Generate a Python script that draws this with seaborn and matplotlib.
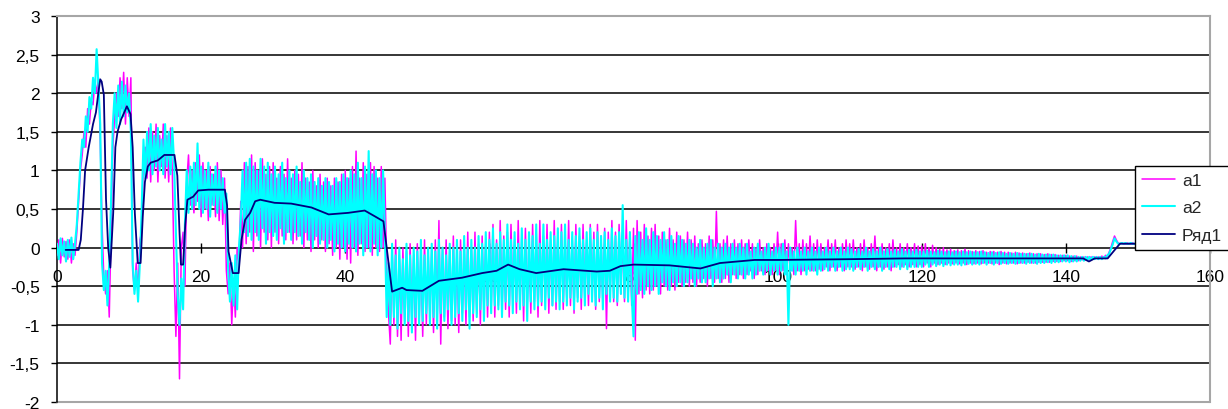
import numpy as np
import pandas as pd
import matplotlib
matplotlib.use("Agg")
import matplotlib.pyplot as plt
from matplotlib.ticker import FuncFormatter, MultipleLocator
import seaborn as sns

# Sampled signals a1 / a2: one value every 0.25 s from t = 0 to t = 150
t_start = 0.0
t_step = 0.25

a1 = [
    # 0 - 9.75
    -0.1, 0.1, -0.2, 0.12, -0.12, 0.08, -0.15, 0.1, -0.2, 0.05,
    -0.1, 0.2, 0.6, 1.0, 1.2, 1.5, 1.3, 1.8, 1.6, 1.9,
    1.85, 2.15, 2.0, 2.2, 1.4, 0.3, -0.4, -0.6, -0.3, -0.9,
    0.2, 1.3, 1.7, 2.0, 1.7, 2.2, 1.8, 2.27, 1.6, 2.2,
    # 10 - 19.75
    1.7, 2.2, -0.3, -0.55, -0.2, -0.6, 0.1, 0.2, 1.2, 1.3,
    0.9, 1.55, 0.85, 1.5, 1.0, 1.6, 0.85, 1.45, 1.05, 1.6,
    0.9, 1.45, 0.85, 1.55, 1.0, -0.3, -1.15, -0.2, -1.7, 0.0,
    0.2, -0.5, 0.85, 1.2, 0.55, 1.0, 0.45, 1.1, 0.6, 1.2,
    # 20 - 29.75
    0.4, 1.1, 0.5, 1.0, 0.35, 1.05, 0.55, 0.95, 0.4, 1.1,
    0.35, 1.0, 0.3, 0.9, -0.3, -0.6, -0.2, -1.0, -0.4, -0.9,
    0.0, -0.2, 0.6, 0.0, 1.1, 0.05, 1.05, 0.2, 1.2, -0.05,
    1.1, 0.15, 1.0, 0.0, 1.15, 0.2, 0.95, 0.1, 1.05, 0.0,
    # 30 - 39.75
    1.1, 0.2, 0.9, 0.05, 1.05, 0.15, 0.95, 0.1, 1.15, 0.2,
    0.9, 0.05, 1.0, 0.1, 0.95, 0.15, 1.1, 0.0, 0.9, 0.1,
    0.85, -0.05, 1.0, 0.1, 0.8, 0.0, 0.95, 0.1, 0.85, -0.05,
    0.9, 0.05, 0.8, -0.1, 0.9, 0.0, 0.85, -0.15, 0.95, 0.0,
    # 40 - 49.75
    1.0, -0.15, 0.9, -0.2, 1.05, 0.0, 1.25, -0.1, 0.9, 0.05,
    1.1, -0.05, 0.95, 0.0, 1.1, -0.1, 1.05, 0.0, 0.9, -0.05,
    1.05, 0.0, 0.9, -0.3, -0.85, -1.25, 0.0, -1.0, 0.1, -1.15,
    -0.1, -1.2, 0.0, -0.95, -0.05, -1.15, 0.05, -1.0, -0.1, -1.2,
    # 50 - 59.75
    0.05, -0.95, -0.05, -1.15, 0.1, -1.0, -0.05, -0.9, 0.0, -1.1,
    0.1, -0.95, 0.35, -1.25, 0.0, -0.9, 0.1, -1.05, -0.05, -0.95,
    0.15, -1.0, 0.0, -1.1, 0.1, -0.85, 0.05, -1.0, 0.2, -0.9,
    0.0, -0.95, 0.2, -0.85, 0.05, -1.0, 0.15, -0.85, 0.1, -0.9,
    # 60 - 69.75
    0.2, -0.8, 0.3, -0.9, 0.1, -0.75, 0.35, -0.85, 0.15, -0.8,
    0.2, -0.9, 0.3, -0.7, 0.1, -0.85, 0.35, -0.75, 0.15, -0.95,
    0.25, -0.75, 0.1, -0.85, 0.3, -0.7, 0.2, -0.9, 0.35, -0.75,
    0.15, -0.7, 0.3, -0.85, 0.1, -0.75, 0.35, -0.8, 0.2, -0.7,
    # 70 - 79.75
    0.3, -0.8, 0.15, -0.7, 0.35, -0.75, 0.1, -0.85, 0.3, -0.65,
    0.15, -0.8, 0.3, -0.7, 0.1, -0.75, 0.3, -0.65, 0.2, -0.8,
    0.3, -0.7, 0.15, -0.75, 0.25, -1.05, 0.2, -0.65, 0.35, -0.7,
    0.2, -0.75, 0.3, -0.6, 0.15, -0.7, 0.35, -0.65, 0.2, -0.75,
    # 80 - 89.75
    0.25, -1.2, 0.35, -0.6, 0.2, -0.65, 0.3, -0.55, 0.15, -0.6,
    0.25, -0.55, 0.3, -0.5, 0.15, -0.6, 0.2, -0.5, 0.1, -0.55,
    0.25, -0.5, 0.1, -0.55, 0.2, -0.45, 0.15, -0.5, 0.1, -0.45,
    0.2, -0.5, 0.1, -0.45, 0.15, -0.5, 0.05, -0.45, 0.1, -0.4,
    # 90 - 99.75
    0.05, -0.5, 0.15, -0.4, 0.1, -0.45, 0.47, -0.4, 0.05, -0.45,
    0.1, -0.4, 0.15, -0.45, 0.05, -0.35, 0.1, -0.4, 0.05, -0.35,
    0.1, -0.4, 0.05, -0.35, 0.1, -0.3, 0.05, -0.4, 0.0, -0.35,
    0.1, -0.3, 0.0, -0.35, 0.05, -0.3, 0.0, -0.35, 0.05, -0.3,
    # 100 - 109.75
    0.2, -0.35, 0.05, -0.3, 0.1, -0.35, 0.05, -0.3, 0.0, -0.35,
    0.35, -0.3, 0.05, -0.35, 0.1, -0.3, 0.05, -0.28, 0.15, -0.3,
    0.05, -0.3, 0.1, -0.28, 0.05, -0.3, 0.0, -0.25, 0.1, -0.3,
    0.05, -0.25, 0.1, -0.3, 0.0, -0.25, 0.05, -0.3, 0.1, -0.25,
    # 110 - 119.75
    0.05, -0.25, 0.1, -0.28, 0.0, -0.25, 0.05, -0.3, 0.1, -0.25,
    0.0, -0.28, 0.05, -0.25, 0.15, -0.3, 0.0, -0.25, 0.05, -0.28,
    0.0, -0.25, 0.05, -0.3, 0.1, -0.25, 0.0, -0.22, 0.05, -0.25,
    0.0, -0.22, 0.05, -0.25, 0.0, -0.22, 0.05, -0.25, 0.02, -0.22,
    # 120 - 129.75
    0.02, -0.25, 0.05, -0.2, 0.0, -0.25, 0.03, -0.2, 0.0, -0.22,
    -0.02, -0.2, 0.0, -0.22, -0.03, -0.2, -0.02, -0.21, -0.04, -0.2,
    -0.03, -0.21, -0.04, -0.2, -0.02, -0.22, -0.04, -0.2, -0.05, -0.21,
    -0.04, -0.2, -0.05, -0.21, -0.04, -0.2, -0.06, -0.2, -0.05, -0.21,
    # 130 - 139.75
    -0.05, -0.2, -0.06, -0.22, -0.05, -0.2, -0.06, -0.21, -0.06, -0.2,
    -0.07, -0.2, -0.06, -0.21, -0.07, -0.2, -0.07, -0.2, -0.08, -0.19,
    -0.07, -0.2, -0.08, -0.2, -0.08, -0.19, -0.08, -0.19, -0.09, -0.19,
    -0.08, -0.19, -0.09, -0.18, -0.09, -0.18, -0.1, -0.18, -0.1, -0.17,
    # 140 - 150
    -0.1, -0.17, -0.11, -0.18, -0.11, -0.17, -0.11, -0.17, -0.12, -0.16,
    -0.12, -0.16, -0.12, -0.15, -0.12, -0.15, -0.12, -0.14, -0.12, -0.14,
    -0.11, -0.14, -0.1, -0.12, -0.06, 0.0, 0.08, 0.15, 0.1, 0.06,
    0.05, 0.06, 0.05, 0.05, 0.06, 0.05, 0.05, 0.06, 0.05, 0.05,
    0.05,
]

a2 = [
    # 0 - 9.75
    0.05, -0.15, 0.12, -0.1, 0.08, -0.18, 0.1, -0.12, 0.13, -0.15,
    0.05, 0.3, 0.7, 1.1, 1.4, 1.3, 1.7, 1.5, 1.95, 1.8,
    2.2, 2.0, 2.57, 2.1, 1.6, -0.2, -0.55, -0.3, -0.75, -0.2,
    0.6, 1.6, 2.0, 1.55, 2.1, 1.6, 2.15, 1.7, 2.1, 1.75,
    # 10 - 19.75
    2.0, 1.5, -0.2, -0.6, -0.3, -0.7, -0.2, 0.5, 1.4, 0.9,
    1.5, 1.0, 1.6, 0.95, 1.45, 1.05, 1.55, 1.0, 1.4, 0.95,
    1.6, 1.05, 1.5, 0.95, 1.55, 1.1, 0.2, -0.6, -1.0, -0.4,
    -0.8, 0.3, 1.0, 0.45, 1.05, 0.5, 1.1, 0.55, 1.35, 0.5,
    # 20 - 29.75
    1.05, 0.45, 1.0, 0.5, 1.1, 0.4, 0.95, 0.55, 1.05, 0.45,
    1.0, 0.5, 0.9, 0.45, 0.7, -0.3, -0.7, -0.2, -0.75, -0.1,
    -0.8, 0.0, 0.35, 1.0, 0.2, 1.1, 0.15, 1.15, 0.1, 1.05,
    0.2, 1.0, 0.1, 1.15, 0.25, 1.05, 0.05, 1.1, 0.2, 0.95,
    # 30 - 39.75
    0.15, 1.05, 0.1, 0.95, 0.25, 1.1, 0.05, 0.9, 0.2, 1.0,
    0.1, 0.95, 0.2, 1.05, 0.15, 0.85, 0.05, 1.0, 0.2, 0.9,
    0.1, 0.95, 0.0, 0.85, 0.15, 0.9, 0.05, 0.8, 0.1, 0.9,
    0.0, 0.85, 0.1, 0.8, -0.05, 0.9, 0.05, 0.85, 0.0, 0.95,
    # 40 - 49.75
    -0.05, 0.9, 0.05, 1.0, 0.0, 0.95, -0.05, 1.1, 0.05, 0.9,
    -0.1, 1.05, 0.0, 1.25, -0.05, 0.95, 0.05, 1.0, -0.1, 0.9,
    0.0, 1.0, 0.2, -0.9, -0.2, -1.0, 0.05, -0.9, -0.1, -1.05,
    0.0, -0.85, -0.15, -1.0, 0.05, -0.95, -0.1, -1.1, 0.0, -0.9,
    # 50 - 59.75
    -0.05, -1.0, 0.1, -0.95, -0.1, -0.85, 0.0, -1.0, 0.05, -0.9,
    -0.05, -1.05, 0.1, -0.85, 0.0, -0.95, -0.1, -0.8, 0.05, -1.0,
    0.0, -0.9, 0.1, -0.85, -0.05, -0.95, 0.15, -0.8, 0.0, -1.05,
    0.1, -0.85, 0.0, -0.9, 0.15, -0.8, 0.05, -0.95, 0.2, -0.75,
    # 60 - 69.75
    0.1, -0.85, 0.25, -0.75, 0.05, -0.8, 0.2, -0.9, 0.1, -0.7,
    0.3, -0.75, 0.1, -0.85, 0.2, -0.7, 0.05, -0.8, 0.25, -0.75,
    0.1, -0.95, 0.2, -0.7, 0.15, -0.8, 0.3, -0.75, 0.05, -0.7,
    0.3, -0.8, 0.1, -0.65, 0.2, -0.75, 0.15, -0.7, 0.25, -0.8,
    # 70 - 79.75
    0.2, -0.7, 0.3, -0.75, 0.1, -0.65, 0.2, -0.8, 0.15, -0.7,
    0.25, -0.65, 0.1, -0.75, 0.2, -0.6, 0.25, -0.7, 0.1, -0.75,
    0.2, -0.65, 0.15, -0.8, 0.2, -0.6, 0.1, -0.7, 0.25, -0.65,
    0.15, -0.7, 0.2, -0.6, 0.55, -0.65, 0.1, -0.7, 0.2, -0.6,
    # 80 - 89.75
    -1.15, 0.15, -0.6, 0.2, -0.55, 0.1, -0.6, 0.25, -0.5, 0.1,
    -0.55, 0.2, -0.5, 0.15, -0.6, 0.1, -0.45, 0.2, -0.5, 0.1,
    -0.55, 0.15, -0.45, 0.05, -0.5, 0.15, -0.45, 0.1, -0.5, 0.05,
    -0.45, 0.1, -0.4, 0.05, -0.5, 0.0, -0.4, 0.1, -0.45, 0.0,
    # 90 - 99.75
    -0.45, 0.05, -0.4, 0.1, -0.5, 0.0, -0.4, 0.05, -0.45, 0.0,
    -0.4, 0.05, -0.35, 0.0, -0.45, 0.05, -0.35, 0.0, -0.4, 0.05,
    -0.35, 0.0, -0.4, 0.05, -0.35, -0.05, -0.4, 0.0, -0.35, 0.05,
    -0.3, -0.05, -0.35, 0.0, -0.3, 0.05, -0.35, -0.05, -0.3, 0.0,
    # 100 - 109.75
    -0.35, 0.0, -0.3, 0.05, -0.35, -0.05, -1.0, 0.0, -0.3, -0.05,
    -0.35, 0.0, -0.3, -0.05, -0.3, 0.0, -0.35, -0.05, -0.3, 0.0,
    -0.3, -0.05, -0.35, 0.0, -0.3, -0.05, -0.28, 0.0, -0.3, -0.05,
    -0.25, 0.0, -0.3, -0.05, -0.25, 0.0, -0.3, -0.05, -0.28, 0.0,
    # 110 - 119.75
    -0.28, -0.02, -0.3, -0.05, -0.25, -0.02, -0.28, -0.05, -0.25, 0.0,
    -0.3, -0.05, -0.25, -0.02, -0.28, -0.05, -0.25, 0.0, -0.3, -0.05,
    -0.25, -0.02, -0.28, -0.05, -0.25, -0.03, -0.25, -0.05, -0.28, -0.02,
    -0.25, -0.05, -0.28, -0.03, -0.25, -0.05, -0.25, -0.03, -0.25, -0.05,
    # 120 - 129.75
    -0.25, -0.05, -0.22, -0.04, -0.25, -0.05, -0.22, -0.06, -0.24, -0.04,
    -0.22, -0.05, -0.24, -0.06, -0.22, -0.05, -0.23, -0.06, -0.22, -0.05,
    -0.22, -0.06, -0.23, -0.05, -0.22, -0.06, -0.21, -0.05, -0.22, -0.06,
    -0.21, -0.06, -0.22, -0.05, -0.2, -0.06, -0.22, -0.07, -0.2, -0.06,
    # 130 - 139.75
    -0.22, -0.07, -0.2, -0.06, -0.21, -0.07, -0.2, -0.08, -0.21, -0.07,
    -0.2, -0.08, -0.21, -0.07, -0.2, -0.08, -0.2, -0.08, -0.21, -0.08,
    -0.2, -0.08, -0.2, -0.09, -0.21, -0.08, -0.2, -0.09, -0.2, -0.09,
    -0.19, -0.09, -0.2, -0.09, -0.19, -0.1, -0.19, -0.1, -0.18, -0.1,
    # 140 - 150
    -0.18, -0.1, -0.19, -0.11, -0.18, -0.11, -0.18, -0.12, -0.17, -0.12,
    -0.17, -0.12, -0.16, -0.12, -0.16, -0.12, -0.15, -0.12, -0.15, -0.12,
    -0.15, -0.12, -0.14, -0.1, -0.08, -0.02, 0.04, 0.12, 0.08, 0.05,
    0.05, 0.06, 0.05, 0.06, 0.05, 0.05, 0.06, 0.05, 0.05, 0.05,
    0.05,
]

# Smoothed series "Ряд1" (irregular time points)
rad1_t = [
    1.2, 3.0, 3.3, 3.6, 3.9, 4.4, 5.0, 5.4, 5.8, 6.0,
    6.2, 6.5, 6.8, 7.1, 7.4, 7.8, 8.1, 8.4, 8.9, 9.7,
    10.2, 10.5, 10.8, 11.2, 11.6, 11.9, 12.2, 12.6, 13.0, 14.0,
    14.9, 16.3, 16.7, 17.0, 17.2, 17.5, 17.8, 18.1, 18.9, 19.6,
    21.0, 23.3, 23.6, 23.8, 24.4, 25.2, 25.6, 26.1, 26.8, 27.5,
    28.2, 30.2, 32.5, 35.3, 37.7, 40.4, 42.7, 44.2, 45.3, 46.5,
    47.9, 48.5, 50.7, 53.0, 56.2, 59.0, 61.0, 62.6, 64.2, 66.5,
    70.3, 74.9, 76.7, 78.2, 80.0, 85.0, 89.3, 92.0, 96.8, 100.0,
    110.0, 117.7, 125.0, 135.0, 142.4, 143.2, 144.0, 145.8, 146.6, 147.5,
    150.0,
]
rad1 = [
    -0.03, -0.03, 0.1, 0.5, 1.0, 1.3, 1.6, 1.75, 2.05, 2.18,
    2.15, 1.98, 0.63, 0.0, -0.26, 0.45, 1.3, 1.5, 1.66, 1.83,
    1.73, 1.3, 0.45, -0.2, -0.2, 0.4, 0.85, 1.05, 1.1, 1.13,
    1.2, 1.2, 0.93, 0.2, -0.22, -0.22, 0.3, 0.62, 0.66, 0.74,
    0.75, 0.75, 0.55, -0.05, -0.33, -0.33, 0.1, 0.36, 0.45, 0.6,
    0.62, 0.58, 0.57, 0.52, 0.43, 0.45, 0.48, 0.4, 0.34, -0.57,
    -0.52, -0.55, -0.56, -0.43, -0.39, -0.33, -0.3, -0.22, -0.28, -0.33,
    -0.28, -0.31, -0.3, -0.24, -0.22, -0.23, -0.27, -0.2, -0.16, -0.16,
    -0.15, -0.14, -0.14, -0.14, -0.14, -0.18, -0.14, -0.14, -0.05, 0.05,
    0.05,
]

series_names = ["a1", "a2", "Ряд1"]
series_colors = ["#FF00FF", "#00FFFF", "#000080"]

x_ticks = [0, 20, 40, 60, 80, 100, 120, 140, 160]
y_min, y_max, y_step = -2.0, 3.0, 0.5

sns.set_theme(style="white")
plt.rcParams["font.family"] = ["Liberation Sans", "DejaVu Sans"]

W, H = 1228, 410
fig = plt.figure(figsize=(W / 100, H / 100), dpi=100)
ax = fig.add_axes([57 / W, (H - 403) / H, (1210 - 57) / W, (403 - 17) / H])

df_a1 = pd.DataFrame({"t": t_start + t_step * np.arange(len(a1)), "v": a1})
df_a2 = pd.DataFrame({"t": t_start + t_step * np.arange(len(a2)), "v": a2})
df_r = pd.DataFrame({"t": rad1_t, "v": rad1})

sns.lineplot(data=df_a1, x="t", y="v", color=series_colors[0], lw=1.1,
             label=series_names[0], ax=ax, estimator=None, sort=False, zorder=3)
sns.lineplot(data=df_a2, x="t", y="v", color=series_colors[1], lw=1.5,
             label=series_names[1], ax=ax, estimator=None, sort=False, zorder=4)
sns.lineplot(data=df_r, x="t", y="v", color=series_colors[2], lw=1.3,
             label=series_names[2], ax=ax, estimator=None, sort=False, zorder=5)

ax.set_xlim(x_ticks[0], x_ticks[-1])
ax.set_ylim(y_min, y_max)
ax.set_xlabel("")
ax.set_ylabel("")

# horizontal gridlines
for v in np.arange(y_min + y_step, y_max - y_step / 2, y_step):
    if abs(v) > 1e-9:
        ax.axhline(v, color="black", lw=1.1, zorder=1)

# plot-area frame: grey on top / right / bottom, black value axis on the left
border = "#a6a6a6"
ax.spines["top"].set_color(border)
ax.spines["top"].set_linewidth(1.5)
ax.spines["right"].set_color(border)
ax.spines["right"].set_linewidth(1.5)
ax.spines["left"].set_color("black")
ax.spines["left"].set_linewidth(1.1)
ax.spines["bottom"].set_position(("data", 0))
ax.spines["bottom"].set_color("black")
ax.spines["bottom"].set_linewidth(1.1)
ax.spines["bottom"].set_zorder(2)
ax.axhline(y_min, color=border, lw=1.5, clip_on=False, zorder=1)

ax.set_xticks(x_ticks)
ax.yaxis.set_major_locator(MultipleLocator(y_step))
ax.yaxis.set_major_formatter(FuncFormatter(
    lambda v, p: ("%g" % v).replace(".", ",")))

ax.tick_params(axis="x", direction="inout", length=7, width=1.0, color="black",
               pad=12, labelsize=12.5, labelcolor="black", bottom=True)
ax.tick_params(axis="y", direction="out", length=4.5, width=1.0, color="black",
               pad=8, labelsize=12.5, labelcolor="black", left=True)
for lbl in ax.get_xticklabels():
    lbl.set_zorder(6)

leg = ax.legend(loc="upper left", bbox_to_anchor=(1135 / W, (H - 167) / H),
                bbox_transform=fig.transFigure, frameon=True, fancybox=False,
                shadow=False, framealpha=1, edgecolor="black", fontsize=12.5,
                handlelength=1.9, handletextpad=0.4, labelspacing=0.7,
                borderpad=0.4, borderaxespad=0)
leg.get_frame().set_linewidth(1.0)
leg.set_zorder(10)

fig.savefig("out.png", dpi=100)
